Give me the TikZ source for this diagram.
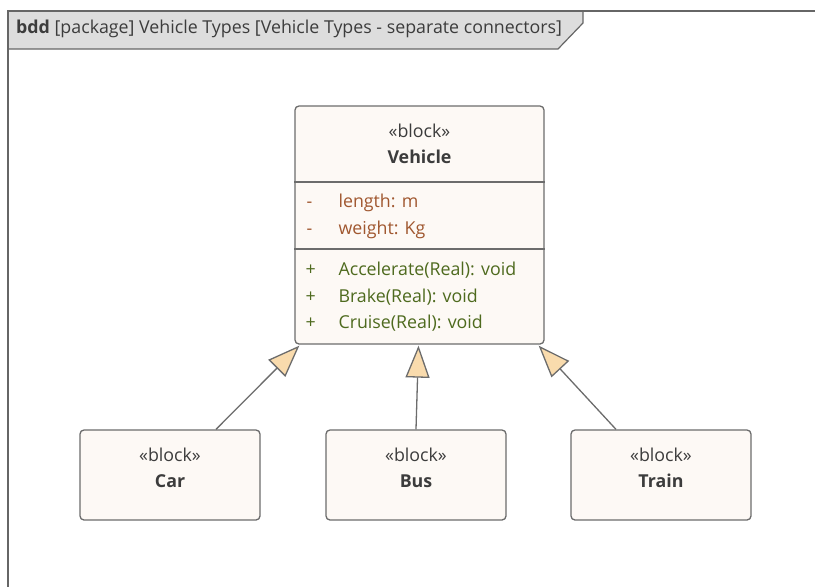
\documentclass[tikz,border=0pt]{standalone}
\usepackage{fontspec}
\setmainfont{Open Sans}
\usetikzlibrary{arrows.meta}
\definecolor{boxfill}{HTML}{FDF9F5}
\definecolor{boxline}{HTML}{6C6C6C}
\definecolor{frameline}{HTML}{666666}
\definecolor{tabfill}{HTML}{DDDDDD}
\definecolor{attrcol}{HTML}{A0572F}
\definecolor{opcol}{HTML}{4E6A1E}
\definecolor{inkcol}{HTML}{3C3C3C}
\definecolor{tipfill}{HTML}{F9DBAD}
\begin{document}
\begin{tikzpicture}
[
    x=1pt, y=-1pt,
    every node/.style={font=\fontsize{17.8}{21}\selectfont, text=inkcol},
    blockbox/.style={draw=boxline, fill=boxfill, rounded corners=4pt, line width=1.3pt},
    attr/.style={text=attrcol, anchor=base west},
    oper/.style={text=opcol, anchor=base west},
    label/.style={anchor=base},
    gen/.style={draw=boxline, line width=1.3pt,
        -{Triangle[length=32pt, width=24pt, fill=tipfill]}}
]
    \useasboundingbox (0,0) rectangle (815,587);

    % frame
    \draw[fill=tabfill, draw=frameline, line width=1.2pt]
        (8,11) -- (583,11) -- (583,23) -- (558,49) -- (8,49);
    \draw[frameline, line width=1.8pt] (8,587) -- (8,11) -- (815,11);
    \node[anchor=base west, inner sep=0pt] (title) at (16,33)
        {\textbf{bdd} [package] Vehicle Types [Vehicle Types - separate connectors]};

    % Vehicle
    \node[blockbox, minimum width=249pt, minimum height=238pt] (vehicle) at (419.5,225) {};
    \draw[boxline, line width=1.3pt] (vehicle.west |- 0,182) -- (vehicle.east |- 0,182);
    \draw[boxline, line width=1.3pt] (vehicle.west |- 0,249) -- (vehicle.east |- 0,249);
    \node[label] (vstereo) at (419.5,137) {«block»};
    \node[label] (vname) at (419.5,163) {\textbf{Vehicle}};
    \node[attr] (a1sign) at (303,207) {-};
    \node[attr] (a1) at (335,207) {length: m};
    \node[attr] (a2sign) at (303,234) {-};
    \node[attr] (a2) at (335,234) {weight: Kg};
    \node[oper] (o1sign) at (302,275) {+};
    \node[oper] (o1) at (335,275) {Accelerate(Real): void};
    \node[oper] (o2sign) at (302,302) {+};
    \node[oper] (o2) at (335,302) {Brake(Real): void};
    \node[oper] (o3sign) at (302,328) {+};
    \node[oper] (o3) at (335,328) {Cruise(Real): void};

    % sub blocks
    \node[blockbox, minimum width=180pt, minimum height=90pt] (car) at (170,475) {};
    \node[label] (carstereo) at ([yshift=14pt]car.center) {«block»};
    \node[label] (carname) at ([yshift=-12pt]car.center) {\textbf{Car}};
    \node[blockbox, minimum width=180pt, minimum height=90pt] (bus) at (416,475) {};
    \node[label] (busstereo) at ([yshift=14pt]bus.center) {«block»};
    \node[label] (busname) at ([yshift=-12pt]bus.center) {\textbf{Bus}};
    \node[blockbox, minimum width=180pt, minimum height=90pt] (train) at (661,475) {};
    \node[label] (trainstereo) at ([yshift=14pt]train.center) {«block»};
    \node[label] (trainname) at ([yshift=-12pt]train.center) {\textbf{Train}};

    % generalisations
    \draw[gen] ([xshift=46pt]car.north) -- ([xshift=5pt, yshift=-1pt]vehicle.south west);
    \draw[gen] (bus.north) -- ([xshift=-1pt, yshift=-1pt]vehicle.south);
    \draw[gen] ([xshift=-45pt]train.north) -- ([xshift=-6pt, yshift=-1pt]vehicle.south east);
\end{tikzpicture}
\end{document}
